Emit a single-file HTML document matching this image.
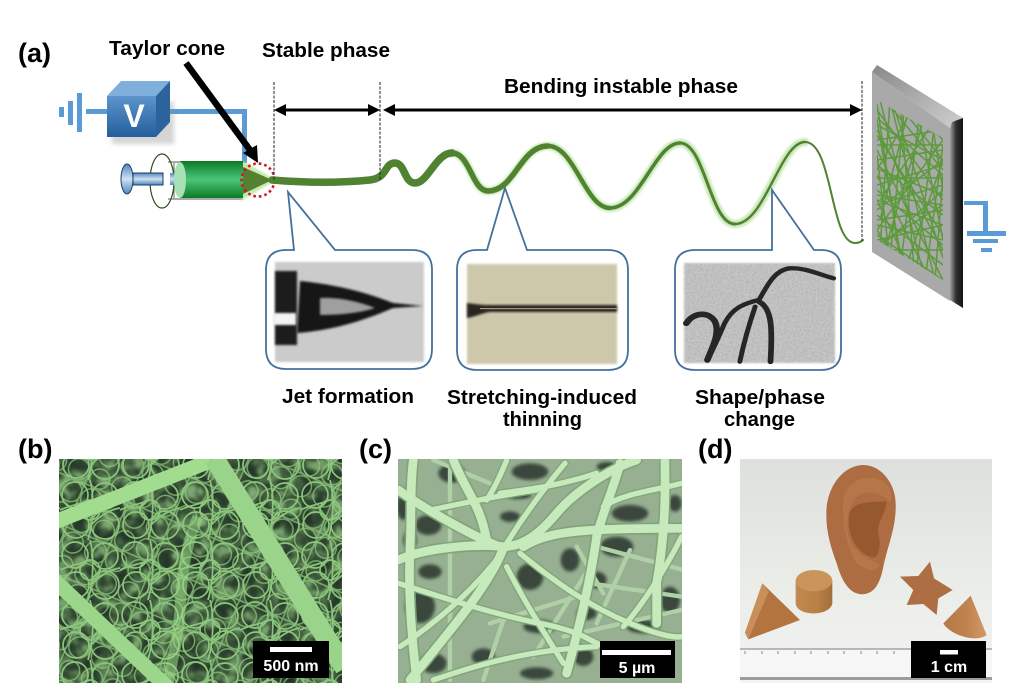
<!DOCTYPE html>
<html><head><meta charset="utf-8">
<style>
html,body{margin:0;padding:0;background:#fff}
svg{display:block}
text{font-family:"Liberation Sans",Arial,sans-serif;font-weight:bold;fill:#000}
</style></head>
<body>
<svg width="1009" height="687" viewBox="0 0 1009 687" xmlns="http://www.w3.org/2000/svg">
<defs>
<linearGradient id="barrel" x1="0" y1="0" x2="0" y2="1"><stop offset="0" stop-color="#0b7a25"/><stop offset=".5" stop-color="#4cc57a"/><stop offset="1" stop-color="#0b7a25"/></linearGradient>
<linearGradient id="rod" x1="0" y1="0" x2="0" y2="1"><stop offset="0" stop-color="#4d86c0"/><stop offset=".5" stop-color="#cfe2f3"/><stop offset="1" stop-color="#4d86c0"/></linearGradient>
<linearGradient id="front" x1="0" y1="0" x2="0" y2="1"><stop offset="0" stop-color="#5b95cb"/><stop offset="1" stop-color="#235f9c"/></linearGradient>
<linearGradient id="ptop" x1="0" y1="0" x2="1" y2="1"><stop offset="0" stop-color="#888"/><stop offset="1" stop-color="#d0d0d0"/></linearGradient>
<linearGradient id="pside" x1="0" y1="0" x2="1" y2="0"><stop offset="0" stop-color="#a0a0a0"/><stop offset=".45" stop-color="#333"/><stop offset="1" stop-color="#111"/></linearGradient>
<linearGradient id="dbg" x1="0" y1="0" x2="0" y2="1"><stop offset="0" stop-color="#dde0dc"/><stop offset=".6" stop-color="#ebede9"/><stop offset="1" stop-color="#f3f3f1"/></linearGradient>
<linearGradient id="cone" x1="0" y1="0" x2="1" y2="0"><stop offset="0" stop-color="#b67848"/><stop offset=".55" stop-color="#c08350"/><stop offset="1" stop-color="#cf9a68"/></linearGradient>
<linearGradient id="cyl" x1="0" y1="0" x2="1" y2="0"><stop offset="0" stop-color="#c08a50"/><stop offset=".6" stop-color="#b98045"/><stop offset="1" stop-color="#a56d3a"/></linearGradient>
<filter id="b1" x="-20%" y="-20%" width="140%" height="140%"><feGaussianBlur stdDeviation="1"/></filter>
<filter id="b2" x="-20%" y="-20%" width="140%" height="140%"><feGaussianBlur stdDeviation="2"/></filter>
<filter id="b5" x="-20%" y="-20%" width="140%" height="140%"><feGaussianBlur stdDeviation="5"/></filter>
<filter id="holes" x="0" y="0" width="100%" height="100%" color-interpolation-filters="sRGB">
<feTurbulence type="fractalNoise" baseFrequency="0.07" numOctaves="2" seed="11"/>
<feColorMatrix type="matrix" values="1 0 0 0 0 1 0 0 0 0 1 0 0 0 0 0 0 0 0 1"/>
<feComponentTransfer>
<feFuncR type="table" tableValues=".14 .14 .16 .2 .3 .44 .52 .56"/>
<feFuncG type="table" tableValues=".2 .2 .23 .29 .42 .6 .66 .7"/>
<feFuncB type="table" tableValues=".15 .15 .17 .2 .28 .4 .46 .48"/>
</feComponentTransfer>
</filter>
<pattern id="pa" width="60" height="60" patternUnits="userSpaceOnUse">
<g fill="none" stroke="#8cc67c" stroke-width="1.7">
<circle cx="15" cy="15" r="13"/><circle cx="45" cy="16" r="13"/><circle cx="16" cy="45" r="13"/><circle cx="45" cy="45" r="14"/><circle cx="30" cy="30" r="10"/>
<path d="M0 30C8 26 20 24 30 20M30 0C34 14 34 40 28 60M60 28C48 30 38 38 32 44"/>
</g>
</pattern>
<pattern id="pb" width="47" height="47" patternUnits="userSpaceOnUse" patternTransform="rotate(23) translate(9 13)">
<g fill="none" stroke="#8cc67c" stroke-width="1.4">
<circle cx="12" cy="12" r="10.5"/><circle cx="35" cy="13" r="10"/><circle cx="13" cy="35" r="11"/><circle cx="35" cy="35" r="10.5"/>
<path d="M0 23H47M23 0V47"/>
</g>
</pattern>
<filter id="grain" x="0" y="0" width="100%" height="100%" color-interpolation-filters="sRGB">
<feTurbulence type="fractalNoise" baseFrequency="0.5" numOctaves="2" seed="3"/>
<feColorMatrix type="matrix" values="0 0 0 0 .45 0 0 0 0 .45 0 0 0 0 .45 .9 0 0 0 -.3"/>
</filter>
<clipPath id="cb"><rect x="59" y="459" width="283" height="224"/></clipPath>
<clipPath id="cc"><rect x="398" y="459" width="284" height="224"/></clipPath>
<clipPath id="cd"><rect x="740" y="459" width="252" height="224"/></clipPath>
<clipPath id="cmat"><polygon points="877,100 943,138 943,280 877,240"/></clipPath>
</defs>

<!-- labels -->
<text x="18" y="62" font-size="27">(a)</text>
<text x="109" y="55" font-size="20" textLength="116" lengthAdjust="spacingAndGlyphs">Taylor cone</text>
<text x="262" y="57" font-size="20" textLength="128" lengthAdjust="spacingAndGlyphs">Stable phase</text>
<text x="504" y="93" font-size="20" textLength="234" lengthAdjust="spacingAndGlyphs">Bending instable phase</text>
<text x="282" y="403" font-size="20" textLength="132" lengthAdjust="spacingAndGlyphs">Jet formation</text>
<text x="447" y="404" font-size="20" textLength="190" lengthAdjust="spacingAndGlyphs">Stretching-induced</text>
<text x="503" y="426" font-size="20" textLength="79" lengthAdjust="spacingAndGlyphs">thinning</text>
<text x="695" y="404" font-size="20" textLength="130" lengthAdjust="spacingAndGlyphs">Shape/phase</text>
<text x="724" y="426" font-size="20" textLength="71" lengthAdjust="spacingAndGlyphs">change</text>
<text x="18" y="458" font-size="27">(b)</text>
<text x="359" y="458" font-size="27">(c)</text>
<text x="698" y="458" font-size="27">(d)</text>

<!-- battery ground + wire -->
<g fill="#5b9bd5">
<rect x="59" y="107" width="5" height="10"/><rect x="68" y="101" width="5" height="24"/><rect x="77" y="93" width="5" height="39"/><rect x="86" y="109" width="22" height="5"/>
<path d="M170 109H247V163H242V114H170Z"/>
</g>
<!-- cube -->
<rect x="112" y="102" width="62" height="42" fill="#888" opacity=".35" filter="url(#b2)"/>
<polygon points="107,96 121,81 170,81 156,96" fill="#7fb0dd"/>
<polygon points="156,96 170,81 170,122 156,137" fill="#2c639c"/>
<rect x="107" y="96" width="49" height="41" fill="url(#front)"/>
<text x="134" y="127" font-size="32" text-anchor="middle" style="fill:#fff">V</text>

<!-- syringe -->
<ellipse cx="162" cy="181" rx="12" ry="27" fill="#fff" stroke="#2f4f20" stroke-width="1.2"/>
<path d="M168 162H243M168 199H243" stroke="#555" stroke-width="1" fill="none"/>
<path d="M174 163V198" stroke="#2f4f20" stroke-width=".8"/>
<rect x="133" y="173" width="30" height="12" fill="url(#rod)" stroke="#1f3d5f" stroke-width="1"/>
<rect x="170" y="173" width="12" height="12" fill="url(#rod)"/>
<ellipse cx="127" cy="179" rx="6" ry="15" fill="url(#rod)" stroke="#1f3d5f" stroke-width="1"/>
<polygon points="241,160 276,180 241,201" fill="#b5e39a" opacity=".8" filter="url(#b1)"/>
<rect x="180" y="161" width="63" height="37" fill="url(#barrel)"/>
<ellipse cx="180" cy="180" rx="6" ry="18" fill="#a9e0b4"/>
<polygon points="243,167 272,180 243,194" fill="#55802f"/>
<circle cx="258" cy="180" r="16.5" fill="none" stroke="#d7141e" stroke-width="2.6" stroke-dasharray="2.6 3"/>

<!-- jet halo + jet -->
<g fill="none" stroke-linecap="round">
<path d="M452 153C470 153 472 191 488 191C515 191 520 146 548 146C575 146 585 208 610 208C640 208 655 143 680 143C705 143 710 224 735 224C765 224 780 142 805 142" stroke="#bfe3a8" stroke-width="8" filter="url(#b1)" opacity=".85"/>
<path d="M272 180C320 184 350 182 370 180C388 178 384 163 395 163C405 163 404 183 415 183C428 183 436 153 452 153" stroke="#4f8231" stroke-width="7.5"/>
<path d="M452 153C470 153 472 191 488 191C515 191 520 146 548 146" stroke="#4f8231" stroke-width="5.5"/>
<path d="M548 146C575 146 585 208 610 208" stroke="#4f8231" stroke-width="4.4"/>
<path d="M610 208C640 208 655 143 680 143" stroke="#4f8231" stroke-width="3.6"/>
<path d="M680 143C705 143 710 224 735 224" stroke="#4f8231" stroke-width="3"/>
<path d="M735 224C765 224 780 142 805 142" stroke="#4f8231" stroke-width="2.4"/>
<path d="M805 142C833 142 830 243 855 243C859 243 861 242 863 240" stroke="#4f8231" stroke-width="2"/>
</g>

<!-- dashed -->
<path d="M274 82V181M380 82V180M862 81V241" stroke="#222" stroke-width="1" stroke-dasharray="3 1.5" fill="none"/>

<!-- arrows -->
<path d="M186 63L250 150" stroke="#000" stroke-width="6.5"/>
<polygon points="258,163 243,153 257,145" fill="#000"/>
<g fill="#000">
<rect x="284" y="108.5" width="86" height="3"/>
<polygon points="274,110 286,104 286,116"/><polygon points="380,110 368,104 368,116"/>
<rect x="393" y="108.5" width="460" height="3"/>
<polygon points="383,110 395,104 395,116"/><polygon points="862,110 850,104 850,116"/>
</g>

<!-- plate -->
<polygon points="872,72 877,65 963,118 952,122 950,128" fill="url(#ptop)"/>
<polygon points="872,72 950,128 950,301 872,252" fill="#a9a9a9"/>
<polygon points="950,128 952,122 963,118 963,308 950,300" fill="url(#pside)"/>
<g clip-path="url(#cmat)"><path fill="none" stroke="#5d9a3c" stroke-width="1.5" d="M877 110L943 200M877 130L943 250M877 150L943 280M877 175L930 280M877 200L910 270M877 230L895 260M885 100L943 170M895 100L943 160M905 100L943 140M877 104L900 260M890 100L880 250M905 100L890 260M920 110L900 270M935 120L915 280M943 145L925 280M943 175L935 280M877 140L943 130M877 160L943 150M877 185L943 165M877 205L943 185M877 220L943 210M877 240L943 225M877 250L943 250M877 118L943 175M877 165L943 215M877 190L943 245M877 215L943 265M877 235L943 280M877 125L943 160M880 170L943 195M877 195L943 205M900 100L915 280M880 100L925 280M915 100L943 240M930 110L943 190M877 250L943 190M877 230L943 140M880 200L935 120M877 170L915 105M877 145L943 145M877 178L943 178M877 200L943 225M877 225L943 240M890 100L935 280M877 120L905 280M877 155L890 260M910 105L880 220M925 115L885 250M943 160L905 270M877 135L943 235M877 245L943 205M877 210L943 160M895 110L943 258"/></g>

<!-- right ground -->
<g fill="#5b9bd5"><path d="M964 201H988V232H983V205H964Z"/><rect x="967" y="231" width="39" height="5"/><rect x="973" y="239" width="25" height="4"/><rect x="981" y="248" width="11" height="4"/></g>

<!-- callouts -->
<g fill="#fff" stroke="#44709c" stroke-width="1.8" stroke-linejoin="miter">
<path d="M286 250H294L288 192L335 250H412Q432 250 432 270V349Q432 369 412 369H286Q266 369 266 349V270Q266 250 286 250Z"/>
<path d="M477 250H487L505 188L527 250H608Q628 250 628 270V350Q628 370 608 370H477Q457 370 457 350V270Q457 250 477 250Z"/>
<path d="M695 250H772V190L814 250H821Q841 250 841 270V350Q841 370 821 370H695Q675 370 675 350V270Q675 250 695 250Z"/>
</g>
<!-- image 1 -->
<g>
<rect x="275" y="262" width="149" height="100" fill="#cbcbcb" filter="url(#b1)"/>
<rect x="275" y="271" width="22" height="74" fill="#1c1c1c" filter="url(#b1)"/>
<rect x="273" y="313" width="23" height="12" fill="#f4f4f4" filter="url(#b1)"/>
<path d="M300 281C330 284 360 290 393 303L423 306L393 308C365 320 335 330 297 333Z" fill="#151515" filter="url(#b1)"/>
<path d="M320 298C340 297 360 302 375 308C360 313 340 315 320 315Z" fill="#9f9f9f" filter="url(#b1)"/>
</g>
<!-- image 2 -->
<g>
<rect x="467" y="264" width="150" height="100" fill="#cec8aa" filter="url(#b1)"/>
<path d="M467 303C475 304 482 305 490 305H617V312H490C482 313 475 317 467 318Z" fill="#2a2620" filter="url(#b1)"/>
<rect x="480" y="308" width="137" height="1.2" fill="#a09a84"/>
</g>
<!-- image 3 -->
<g>
<rect x="684" y="263" width="151" height="100" fill="#c6c6c6" filter="url(#b1)"/>
<rect x="684" y="263" width="151" height="100" filter="url(#grain)" opacity=".5"/>
<g transform="translate(250,180) scale(.3827,.3333)" fill="none" stroke="#262626" stroke-linecap="round" filter="url(#b1)">
<path d="M1525 295C1490 285 1450 262 1410 265C1370 270 1350 320 1330 360C1290 370 1260 385 1240 430C1225 470 1210 510 1195 540" stroke-width="13"/>
<path d="M1140 430C1160 395 1200 395 1215 425C1230 460 1205 510 1195 540" stroke-width="17"/>
<path d="M1330 365C1365 385 1365 450 1360 545" stroke-width="15"/>
<path d="M1320 380C1305 430 1290 490 1280 545" stroke-width="13"/>
</g>
</g>

<!-- panel b -->
<g clip-path="url(#cb)">
<rect x="59" y="459" width="283" height="224" filter="url(#holes)"/>
<rect x="59" y="459" width="283" height="224" fill="url(#pa)"/>
<rect x="59" y="459" width="283" height="224" fill="url(#pb)" opacity=".8"/>
<g fill="none" stroke-linecap="butt">
<path d="M52 523L210 461" stroke="#a2dc8e" stroke-width="15"/>
<path d="M214 458L345 668" stroke="#99d48a" stroke-width="20"/>
<path d="M52 578L168 688" stroke="#9cd68b" stroke-width="15"/>
<path d="M198 517C186 545 182 570 180 610C178 640 172 660 168 685" stroke="#9fdc8a" stroke-width="11" opacity=".55"/>
</g>
</g>
<rect x="253" y="641" width="76" height="37" fill="#000"/>
<rect x="270" y="647" width="42" height="5" fill="#fff"/>
<text x="291" y="671" font-size="16" text-anchor="middle" style="fill:#fff">500 nm</text>

<!-- panel c -->
<g clip-path="url(#cc)">
<rect x="398" y="459" width="284" height="224" fill="#97b091"/>
<g transform="translate(390,450) scale(.3333)">
<g fill="#3a473c" filter="url(#b5)">
<ellipse cx="185" cy="70" rx="40" ry="28"/><ellipse cx="420" cy="65" rx="55" ry="25"/><ellipse cx="385" cy="135" rx="40" ry="12"/>
<ellipse cx="115" cy="225" rx="40" ry="30"/><ellipse cx="40" cy="170" rx="20" ry="40"/><ellipse cx="360" cy="200" rx="30" ry="16"/>
<ellipse cx="720" cy="190" rx="55" ry="25"/><ellipse cx="855" cy="160" rx="20" ry="25"/><ellipse cx="680" cy="290" rx="50" ry="30"/>
<ellipse cx="420" cy="380" rx="40" ry="40"/><ellipse cx="540" cy="330" rx="28" ry="35"/><ellipse cx="90" cy="470" rx="45" ry="50"/>
<ellipse cx="120" cy="365" rx="35" ry="22"/><ellipse cx="620" cy="390" rx="30" ry="25"/><ellipse cx="590" cy="490" rx="30" ry="20"/>
<ellipse cx="450" cy="530" rx="50" ry="20"/><ellipse cx="130" cy="640" rx="40" ry="30"/><ellipse cx="760" cy="530" rx="50" ry="20"/>
<ellipse cx="580" cy="620" rx="30" ry="28"/><ellipse cx="840" cy="450" rx="30" ry="40"/><ellipse cx="650" cy="50" rx="30" ry="14"/>
<ellipse cx="280" cy="620" rx="35" ry="25"/><ellipse cx="440" cy="670" rx="50" ry="18"/><ellipse cx="60" cy="270" rx="20" ry="30"/>
</g>
<g fill="none" stroke="#b0d0a8" stroke-linecap="round">
<path d="M180 30V690M130 30L300 100M600 400L875 440M520 560L875 480M300 520L560 440M430 620L600 350M280 690L340 510M560 290L640 430M720 300L620 520M880 360L620 290M130 180L260 160" stroke-width="13"/>
</g>
<g fill="none" stroke="#7fa378" stroke-linecap="round" opacity=".9">
<path d="M25 330C100 295 250 280 340 290C400 290 450 250 500 190S650 60 740 30M400 290C480 240 600 235 875 235M25 120C100 175 250 260 340 295M190 30C230 130 270 160 290 270M70 30C60 100 65 200 60 300S60 520 80 690M340 295C300 400 200 520 60 690M825 30C825 100 830 230 800 400V520M690 40C680 90 640 180 620 260M620 260C600 400 570 520 530 670" stroke-width="36"/>
<path d="M525 40C450 130 400 200 350 280M335 310C250 420 150 510 30 590M390 310C500 400 600 470 720 520S875 560 875 560M350 350C400 450 470 560 520 640M25 400C150 440 300 490 450 520S600 580 650 590M875 260C840 330 770 450 700 530M130 690C250 650 400 600 620 590M875 100C800 120 700 130 640 170M330 130C400 120 500 110 620 70M350 30C330 80 310 120 290 150M120 180C200 165 300 140 440 120" stroke-width="24"/>
</g>
<g fill="none" stroke="#c6eabc" stroke-linecap="round">
<path d="M25 330C100 295 250 280 340 290C400 290 450 250 500 190S650 60 740 30M400 290C480 240 600 235 875 235M25 120C100 175 250 260 340 295M190 30C230 130 270 160 290 270M70 30C60 100 65 200 60 300S60 520 80 690M340 295C300 400 200 520 60 690M825 30C825 100 830 230 800 400V520M690 40C680 90 640 180 620 260M620 260C600 400 570 520 530 670" stroke-width="26"/>
<path d="M525 40C450 130 400 200 350 280M335 310C250 420 150 510 30 590M390 310C500 400 600 470 720 520S875 560 875 560M350 350C400 450 470 560 520 640M25 400C150 440 300 490 450 520S600 580 650 590M875 260C840 330 770 450 700 530M130 690C250 650 400 600 620 590M875 100C800 120 700 130 640 170M330 130C400 120 500 110 620 70M350 30C330 80 310 120 290 150M120 180C200 165 300 140 440 120" stroke-width="16"/>
</g>
</g>
</g>
<rect x="600" y="641" width="75" height="37" fill="#000"/>
<rect x="602" y="650" width="69" height="5" fill="#fff"/>
<text x="637" y="673" font-size="16" text-anchor="middle" style="fill:#fff">5 µm</text>

<!-- panel d -->
<g clip-path="url(#cd)">
<rect x="740" y="459" width="252" height="224" fill="url(#dbg)"/>
<rect x="740" y="648" width="252" height="32" fill="#f6f6f6"/>
<rect x="740" y="648" width="252" height="2" fill="#b5b8b5"/>
<rect x="740" y="677" width="252" height="3" fill="#9a9d9a"/>
<path d="M745 651v3M762 651v3M778 651v3M795 651v3M811 651v3M828 651v3M844 651v3M861 651v3M877 651v3M894 651v3" stroke="#888" stroke-width="1" fill="none"/>
<g transform="translate(730,450) scale(.3333)">
<path d="M400 45C450 45 495 95 497 160C500 230 472 290 460 350C450 405 430 433 395 433C355 430 335 390 320 340C300 285 285 235 290 170C298 100 345 45 400 45Z" fill="#ad6c42"/>
<path d="M340 150C345 100 400 70 450 90C480 105 490 130 482 160C470 140 440 125 410 128C375 132 352 170 352 230C354 280 380 310 420 330L450 345C430 370 410 360 380 340C350 300 335 210 340 150Z" fill="#b67647"/>
<path d="M358 190C372 155 420 155 470 155C465 200 440 215 445 250C455 290 445 335 420 320C378 305 348 250 358 190Z" fill="#96582f"/>
<path d="M97 400L210 510L55 568L45 548Z" fill="#b4743f"/>
<path d="M97 400L45 548L55 568L116 425Z" fill="#c98f5a"/>
<path d="M197 392V460C200 500 300 500 307 460V392Z" fill="url(#cyl)"/>
<ellipse cx="252" cy="392" rx="55" ry="32" fill="#c9955a"/>
<path d="M600 335L612 385L668 420L625 445L620 495L580 462L530 465L550 420L510 380L565 378Z" fill="#ad6e44"/>
<path d="M722 437L640 520C660 555 740 580 770 555Z" fill="url(#cone)"/>
</g>
</g>
<rect x="911" y="641" width="75" height="37" fill="#000"/>
<rect x="940" y="650" width="18" height="4.5" fill="#fff"/>
<text x="949" y="672" font-size="16" text-anchor="middle" style="fill:#fff">1 cm</text>
</svg>
</body></html>
